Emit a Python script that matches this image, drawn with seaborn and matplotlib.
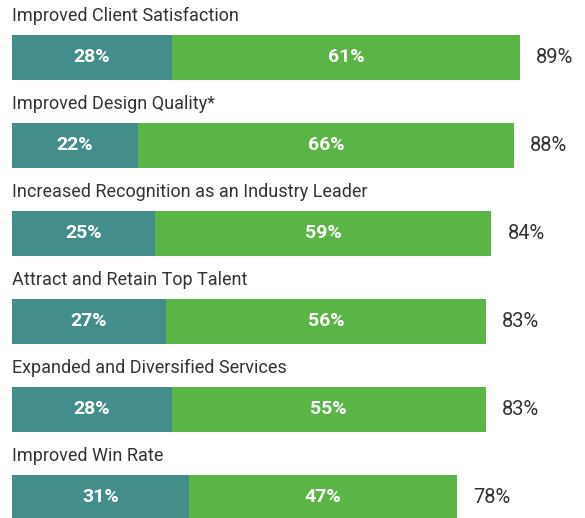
import matplotlib
matplotlib.use("Agg")
import matplotlib.pyplot as plt
import seaborn as sns
import pandas as pd

categories = [
    "Improved Client Satisfaction",
    "Improved Design Quality*",
    "Increased Recognition as an Industry Leader",
    "Attract and Retain Top Talent",
    "Expanded and Diversified Services",
    "Improved Win Rate",
]
teal_vals = [28, 22, 25, 27, 28, 31]
green_vals = [61, 66, 59, 56, 55, 47]
total_vals = [89, 88, 84, 83, 83, 78]

TEAL = "#438E8B"
GREEN = "#5BB446"
TEXT = "#333333"

sns.set_theme(style="white")
plt.rcParams["font.family"] = ["Roboto", "DejaVu Sans"]

df = pd.DataFrame({"cat": categories, "teal": teal_vals,
                   "green": green_vals, "total": total_vals})

W, H = 585, 518
fig = plt.figure(figsize=(W / 100, H / 100), dpi=100)
ax = fig.add_axes([0, 0, 1, 1])

sns.barplot(data=df, y="cat", x="total", color=GREEN, width=0.51,
            saturation=1, ax=ax, orient="h", linewidth=0)
sns.barplot(data=df, y="cat", x="teal", color=TEAL, width=0.51,
            saturation=1, ax=ax, orient="h", linewidth=0)

px_per_unit = 508 / 89
left_px = 12
ax.set_xlim(-left_px / px_per_unit, (W - left_px) / px_per_unit)
pitch = (497 - 57.5) / 5
ax.set_ylim((H - 57.5) / pitch, -57.5 / pitch)

for i, (c, t, g, tot) in enumerate(zip(categories, teal_vals, green_vals, total_vals)):
    ax.text(0, i - 41.5 / pitch, c, ha="left", va="center", fontsize=13,
            color=TEXT)
    ax.text(t / 2, i, f"{t}%", ha="center", va="center", fontsize=14,
            color="white", fontweight="bold")
    ax.text(t + g / 2, i, f"{g}%", ha="center", va="center", fontsize=14,
            color="white", fontweight="bold")
    ax.text(tot + 16 / px_per_unit, i, f"{tot}%", ha="left", va="center",
            fontsize=14.5, color=TEXT)

ax.set_axis_off()
fig.savefig("out.png", dpi=100)
